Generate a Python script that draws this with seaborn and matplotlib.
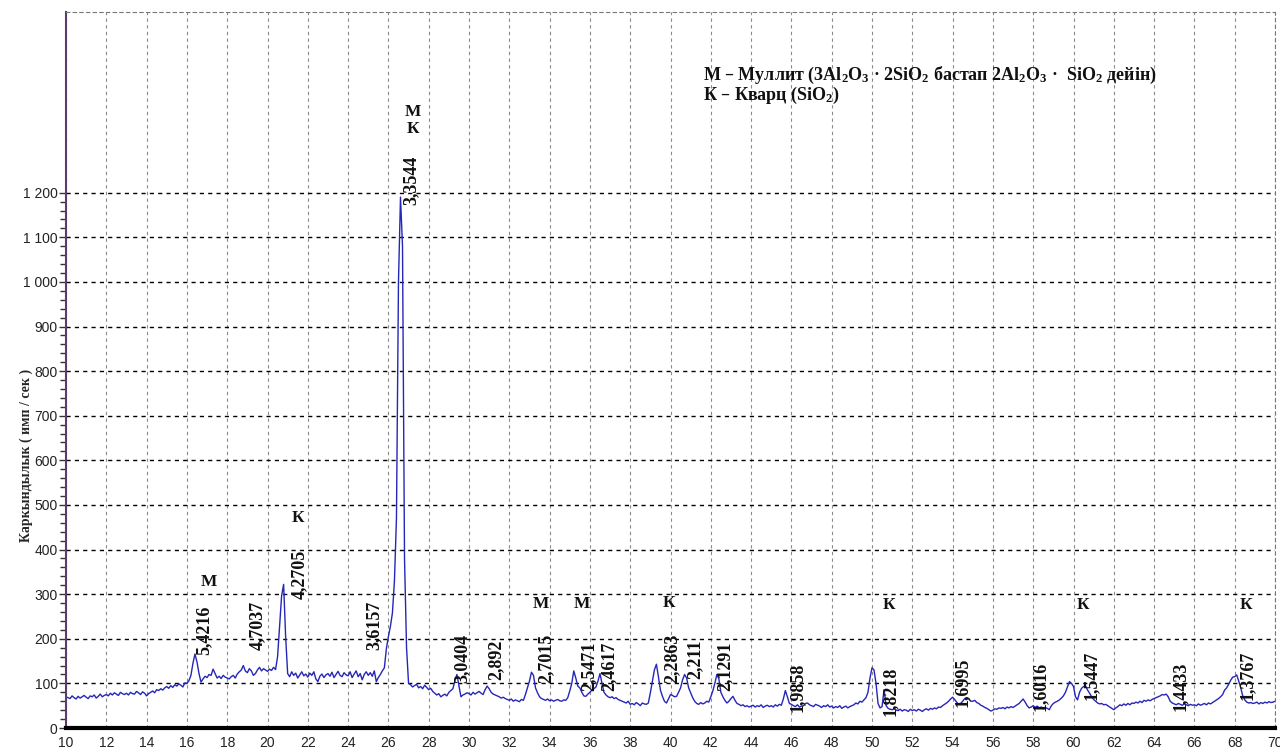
import numpy as np
import seaborn as sns
from matplotlib import pyplot as plt
from matplotlib.ticker import FuncFormatter, FixedLocator

# XRD pattern, 2-theta from 10 to 70 deg, step 0.1 (one row per degree)
two_theta_start = 10.0
two_theta_step = 0.1
intensity = [
    70, 68, 66, 72, 68, 65, 71, 67, 70, 73,          # 10
    69, 66, 72, 70, 74, 67, 71, 76, 70, 73,          # 11
    75, 72, 78, 74, 79, 76, 73, 80, 77, 75,          # 12
    78, 74, 80, 77, 76, 82, 79, 75, 81, 78,          # 13
    72, 77, 80, 83, 79, 86, 84, 88, 85, 90,          # 14
    93, 89, 95, 91, 97, 94, 99, 96, 92, 101,         # 15
    100, 106, 118, 145, 166, 148, 122, 103, 110, 116,  # 16
    113, 120, 118, 132, 122, 112, 116, 111, 118, 114,  # 17
    112, 110, 115, 118, 112, 121, 126, 130, 140, 128,  # 18
    124, 133, 128, 118, 122, 130, 136, 128, 133, 130,  # 19
    127, 132, 129, 136, 131, 160, 228, 296, 322, 205,  # 20
    122, 115, 126, 118, 123, 112, 119, 126, 117, 121,  # 21
    114, 123, 118, 126, 110, 104, 116, 121, 113, 119,  # 22
    122, 116, 125, 113, 120, 127, 118, 115, 124, 119,  # 23
    117, 126, 113, 121, 128, 115, 122, 108, 120, 126,  # 24
    118, 124, 116, 128, 104, 113, 120, 128, 135, 178,  # 25
    205, 228, 258, 330, 470, 1000, 1190, 1080, 380, 180,  # 26
    100, 97, 92, 95, 98, 90, 93, 88, 96, 91,         # 27
    86, 89, 82, 78, 74, 77, 70, 73, 76, 72,          # 28
    80, 84, 88, 105, 120, 95, 70, 74, 76, 79,        # 29
    77, 74, 80, 76, 79, 82, 78, 75, 86, 94,          # 30
    88, 80, 76, 74, 72, 70, 67, 69, 66, 64,          # 31
    62, 65, 60, 63, 61, 59, 64, 62, 75, 90,          # 32
    105, 125, 118, 90, 79, 70, 66, 64, 62, 65,       # 33
    61, 63, 60, 62, 64, 61, 60, 63, 62, 68,          # 34
    83, 100, 128, 112, 94, 90, 80, 72, 71, 76,       # 35
    80, 85, 88, 92, 105, 122, 100, 80, 74, 70,       # 36
    68, 70, 66, 68, 64, 62, 60, 58, 56, 60,          # 37
    53, 55, 52, 57, 54, 50, 56, 54, 53, 56,          # 38
    79, 105, 130, 143, 115, 85, 71, 60, 56, 65,      # 39
    75, 73, 70, 71, 80, 90, 108, 120, 112, 90,       # 40
    79, 68, 60, 55, 53, 57, 54, 56, 60, 58,          # 41
    70, 83, 100, 120, 110, 80, 70, 62, 56, 60,       # 42
    66, 71, 62, 55, 53, 50, 52, 48, 50, 47,          # 43
    49, 51, 47, 50, 48, 52, 46, 49, 51, 48,          # 44
    50, 47, 52, 49, 53, 51, 65, 84, 70, 55,          # 45
    53, 50, 48, 52, 47, 49, 50, 55, 56, 52,          # 46
    50, 48, 53, 51, 49, 46, 50, 48, 52, 47,          # 47
    49, 45, 48, 46, 50, 44, 47, 49, 45, 48,          # 48
    50, 52, 56, 54, 60, 58, 63, 68, 80, 112,         # 49
    135, 130, 100, 55, 45, 48, 86, 50, 44, 42,       # 50
    41, 43, 40, 39, 42, 38, 41, 40, 37, 42,          # 51
    39, 41, 38, 42, 40, 37, 41, 43, 40, 44,          # 52
    42, 45, 43, 47, 46, 50, 53, 56, 60, 65,          # 53
    69, 64, 58, 53, 55, 60, 66, 68, 65, 60,          # 54
    60, 62, 57, 55, 51, 49, 46, 44, 41, 38,          # 55
    40, 43, 42, 45, 44, 46, 43, 47, 45, 48,          # 56
    46, 49, 52, 55, 60, 65, 58, 50, 45, 47,          # 57
    50, 46, 49, 45, 47, 43, 46, 44, 41, 50,          # 58
    55, 58, 60, 63, 67, 72, 80, 92, 104, 100,        # 59
    93, 70, 63, 80, 89, 93, 94, 85, 78, 70,          # 60
    64, 60, 56, 54, 55, 52, 53, 50, 47, 44,          # 61
    41, 45, 48, 52, 50, 54, 51, 55, 52, 56,          # 62
    55, 58, 56, 60, 57, 62, 60, 63, 61, 64,          # 63
    66, 68, 70, 72, 75, 74, 76, 70, 60, 56,          # 64
    54, 52, 55, 53, 51, 54, 52, 50, 53, 51,          # 65
    52, 50, 54, 51, 53, 55, 52, 56, 54, 57,          # 66
    60, 63, 66, 70, 75, 85, 90, 98, 107, 114,        # 67
    115, 119, 105, 90, 72, 63, 58, 56, 57, 55,       # 68
    56, 58, 54, 57, 55, 58, 56, 59, 57, 58,          # 69
    60,                                              # 70
]

# d-spacing labels (Angstrom) and where they are written
peak_d = ['5,4216', '4,7037', '4,2705', '3,6157', '3,3544', '3,0404', '2,892',
          '2,7015', '2,5471', '2,4617', '2,2863', '2,211', '2,1291', '1,9858',
          '1,8218', '1,6995', '1,6016', '1,5447', '1,4433', '1,3767']
peak_label_x = [16.86, 19.49, 21.57, 25.3, 27.14, 29.67, 31.36,
                33.8, 35.93, 36.93, 40.06, 41.2, 42.7, 46.27,
                50.9, 54.46, 58.33, 60.9, 65.3, 68.6]
peak_label_y = [163, 174, 290, 174, 1172, 100, 107,
                100, 84, 84, 100, 110, 84, 35,
                28, 48, 39, 62, 39, 62]

# phase marks: М - mullite, К - quartz
phase_text = ['М', 'К', 'М\nК', 'М', 'М', 'К', 'К', 'К', 'К']
phase_x = [17.1, 21.5, 27.2, 33.55, 35.6, 39.9, 50.83, 60.47, 68.57]
phase_y = [327, 470, 1362, 277, 277, 280, 275, 275, 275]

two_theta = two_theta_start + two_theta_step * np.arange(len(intensity))

sns.set_theme(style='white')
plt.rcParams['font.family'] = ['Liberation Sans', 'DejaVu Sans']
plt.rcParams['mathtext.default'] = 'regular'
serif = ['Liberation Serif', 'DejaVu Serif']

fig = plt.figure(figsize=(12.8, 7.53), dpi=100)
ax = fig.add_axes([66 / 1280, 25 / 753, 1209 / 1280, 716 / 753])

sns.lineplot(x=two_theta, y=intensity, ax=ax, color='#2626b8', linewidth=1.0)

ax.set_xlim(10, 70)
ax.set_ylim(0, 1605)
ax.set_xticks(np.arange(10, 71, 2))
ax.set_yticks(np.arange(0, 1201, 100))
ax.yaxis.set_minor_locator(FixedLocator(np.arange(0, 1201, 20)))
ax.yaxis.set_major_formatter(FuncFormatter(
    lambda v, p: f'{int(v):,}'.replace(',', ' ')))
ax.set_ylim(0, 1605)

ax.grid(axis='x', color='#8a8a8a', linestyle=(0, (3, 3)), linewidth=0.8)
ax.grid(axis='y', color='black', linestyle=(0, (3, 3)), linewidth=1.0)
ax.tick_params(axis='x', length=0, pad=6, labelsize=10, colors='#222222')
ax.tick_params(axis='y', which='major', left=True, length=5, width=1,
               color='#333333', labelsize=10, labelcolor='#222222', pad=1)
ax.tick_params(axis='y', which='minor', left=True, length=4, width=1,
               color='#333333')

ax.spines['left'].set_color('#5a3d6e')
ax.spines['left'].set_linewidth(1.5)
ax.spines['bottom'].set_color('black')
ax.spines['bottom'].set_linewidth(3)
for side in ['top', 'right']:
    ax.spines[side].set_color('#777777')
    ax.spines[side].set_linestyle((0, (3, 3)))
    ax.spines[side].set_linewidth(0.8)

ax.set_xlabel('')
ax.set_ylabel('Каркындылык ( имп / сек )', family=serif, fontweight='bold',
              fontsize=10)
ax.yaxis.set_label_coords(-0.027, 0.381)

for d, x, y in zip(peak_d, peak_label_x, peak_label_y):
    ax.text(x, y, d, rotation=90, ha='center', va='bottom', family=serif,
            fontweight='bold', fontsize=13, color='#111111')

for t, x, y in zip(phase_text, phase_x, phase_y):
    ax.text(x, y, t, ha='center', va='center', family=serif,
            fontweight='bold', fontsize=12.5, color='#111111', linespacing=1.1)

ax.text(0.527, 0.905,
        'М – Муллит (3Al$_2$O$_3$ · 2SiO$_2$ бастап 2Al$_2$O$_3$ ·  SiO$_2$ дейін)',
        transform=ax.transAxes, ha='left', va='baseline', family=serif,
        fontweight='bold', fontsize=13, color='#111111')
ax.text(0.527, 0.877, 'К – Кварц (SiO$_2$)',
        transform=ax.transAxes, ha='left', va='baseline', family=serif,
        fontweight='bold', fontsize=13, color='#111111')

fig.savefig('out.png', dpi=100)
